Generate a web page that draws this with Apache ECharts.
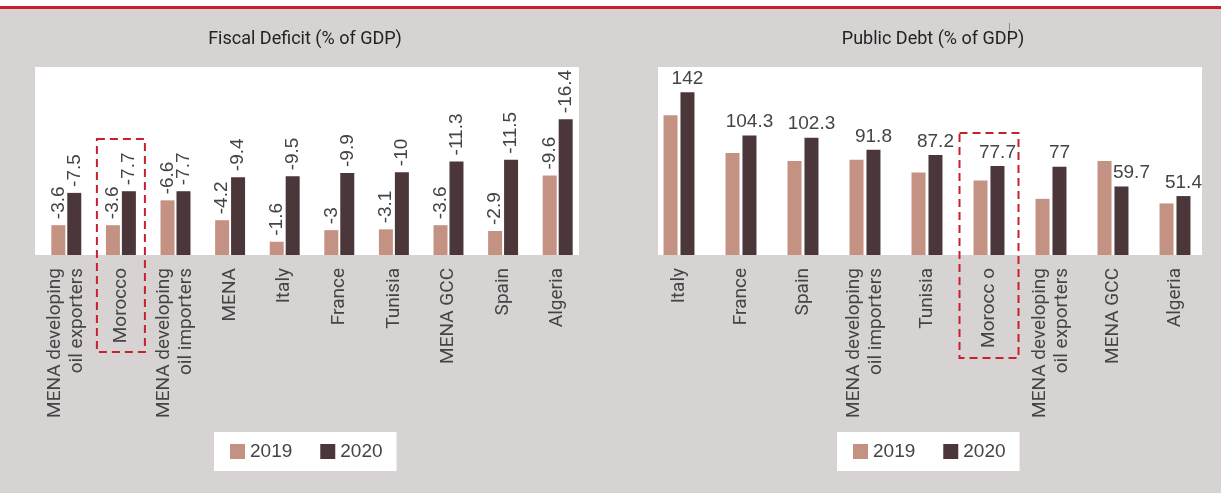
<!DOCTYPE html>
<html><head><meta charset="utf-8">
<script src="https://cdn.jsdelivr.net/npm/echarts@6/dist/echarts.min.js"></script>
<style>html,body{margin:0;padding:0;background:#fff}#c{width:1221px;height:493px}</style>
</head><body><div id="c"></div>
<script>
// ---- data ----
const deficitCategories = ['MENA developing\noil exporters', 'Morocco', 'MENA developing\noil importers', 'MENA', 'Italy', 'France', 'Tunisia', 'MENA GCC', 'Spain', 'Algeria'];
const deficit2019 = [-3.6, -3.6, -6.6, -4.2, -1.6, -3, -3.1, -3.6, -2.9, -9.6];
const deficit2020 = [-7.5, -7.7, -7.7, -9.4, -9.5, -9.9, -10, -11.3, -11.5, -16.4];

const debtCategories = ['Italy', 'France', 'Spain', 'MENA developing\noil importers', 'Tunisia', 'Morocc o', 'MENA developing\noil exporters', 'MENA GCC', 'Algeria'];
const debt2019 = [122, 89, 82, 83, 72, 65, 49, 82, 45];
const debt2020 = [142, 104.3, 102.3, 91.8, 87.2, 77.7, 77, 59.7, 51.4];

const seriesNames = ['2019', '2020'];
const titles = ['Fiscal Deficit (% of GDP)', 'Public Debt (% of GDP)'];

// ---- style ----
const C2019 = '#c49282', C2020 = '#4b363a';
const BG = '#d8d3d3';
const RED = '#c8202e';
const REG = 'Liberation Sans';
const NARROW = 'Roboto';
const TXT = '#444';

const chart = echarts.init(document.getElementById('c'), null, {renderer: 'canvas'});

function catAxis(idx, cats) {
  return {
    type: 'category', gridIndex: idx, data: cats,
    axisLine: {show: false}, axisTick: {show: false},
    axisLabel: {interval: 0, rotate: 90, margin: 13, fontFamily: NARROW, fontSize: 19, lineHeight: 22, color: TXT}
  };
}

const valLabelStyle = {fontFamily: REG, fontSize: 19, color: TXT};

const option = {
  backgroundColor: BG,
  animation: false,
  title: [
    {text: titles[0], left: 305, top: 30, textAlign: 'center', padding: 0,
     textStyle: {fontFamily: NARROW, fontSize: 18, fontWeight: 'normal', color: '#222'}},
    {text: titles[1], left: 933, top: 30, textAlign: 'center', padding: 0,
     textStyle: {fontFamily: NARROW, fontSize: 18, fontWeight: 'normal', color: '#222'}}
  ],
  legend: [
    {data: seriesNames, left: 214, top: 432, backgroundColor: '#fff', padding: [10, 14, 10, 16],
     itemWidth: 15, itemHeight: 15, itemGap: 28, icon: 'rect',
     textStyle: {fontFamily: REG, fontSize: 19, color: TXT}},
    {data: seriesNames, left: 837, top: 432, backgroundColor: '#fff', padding: [10, 14, 10, 16],
     itemWidth: 15, itemHeight: 15, itemGap: 28, icon: 'rect',
     textStyle: {fontFamily: REG, fontSize: 19, color: TXT}}
  ],
  grid: [
    {left: 39, top: 67, width: 546, height: 188},
    {left: 648, top: 67, width: 558, height: 188}
  ],
  xAxis: [catAxis(0, deficitCategories), catAxis(1, debtCategories)],
  yAxis: [
    {type: 'value', gridIndex: 0, min: -22.7, max: 0, inverse: true, show: false, splitLine: {show: false}},
    {type: 'value', gridIndex: 1, min: 0, max: 164, show: false, splitLine: {show: false}}
  ],
  graphic: [
    {type: 'rect', shape: {x: 0, y: 0, width: 1221, height: 6}, style: {fill: '#fff'}, z: 0},
    {type: 'rect', shape: {x: 0, y: 6, width: 1221, height: 3}, style: {fill: RED}, z: 0},
    {type: 'rect', shape: {x: 35, y: 67, width: 544, height: 188}, style: {fill: '#fff'}, z: 0},
    {type: 'rect', shape: {x: 658, y: 67, width: 544, height: 188}, style: {fill: '#fff'}, z: 0},
    {type: 'line', shape: {x1: 1009.5, y1: 23, x2: 1009.5, y2: 35}, style: {stroke: '#888', lineWidth: 1}, z: 5}
  ],
  series: [
    {name: seriesNames[0], type: 'bar', xAxisIndex: 0, yAxisIndex: 0, data: deficit2019,
     barWidth: 14, barGap: '14%', itemStyle: {color: C2019},
     label: {show: true, position: 'top', rotate: 90, align: 'left', verticalAlign: 'middle', distance: 6, ...valLabelStyle}},
    {name: seriesNames[1], type: 'bar', xAxisIndex: 0, yAxisIndex: 0, data: deficit2020,
     barWidth: 14, barGap: '14%', itemStyle: {color: C2020},
     label: {show: true, position: 'top', rotate: 90, align: 'left', verticalAlign: 'middle', distance: 6, ...valLabelStyle}},
    {name: seriesNames[0], type: 'bar', xAxisIndex: 1, yAxisIndex: 1, data: debt2019,
     barWidth: 14, barGap: '21%', itemStyle: {color: C2019}},
    {name: seriesNames[1], type: 'bar', xAxisIndex: 1, yAxisIndex: 1,
     data: debt2020.map((v, i) => i === 7 ? {value: v, label: {offset: [10, 0]}} : v),
     barWidth: 14, barGap: '21%', itemStyle: {color: C2020},
     label: {show: true, position: 'top', distance: 4, ...valLabelStyle}}
  ]
};
chart.setOption(option);

// dashed highlight boxes around Morocco in each panel
const mx1 = chart.convertToPixel({xAxisIndex: 0}, deficitCategories[1]);
const mx2 = chart.convertToPixel({xAxisIndex: 1}, debtCategories[5]);
const dash = {stroke: RED, lineWidth: 2, fill: null, lineDash: [8, 5]};
chart.setOption({graphic: option.graphic.concat([
  {type: 'rect', shape: {x: mx1 - 24, y: 139, width: 48, height: 213}, style: dash, z: 10},
  {type: 'rect', shape: {x: mx2 - 29.5, y: 133, width: 59, height: 225}, style: dash, z: 10}
])});
</script>
</body></html>
